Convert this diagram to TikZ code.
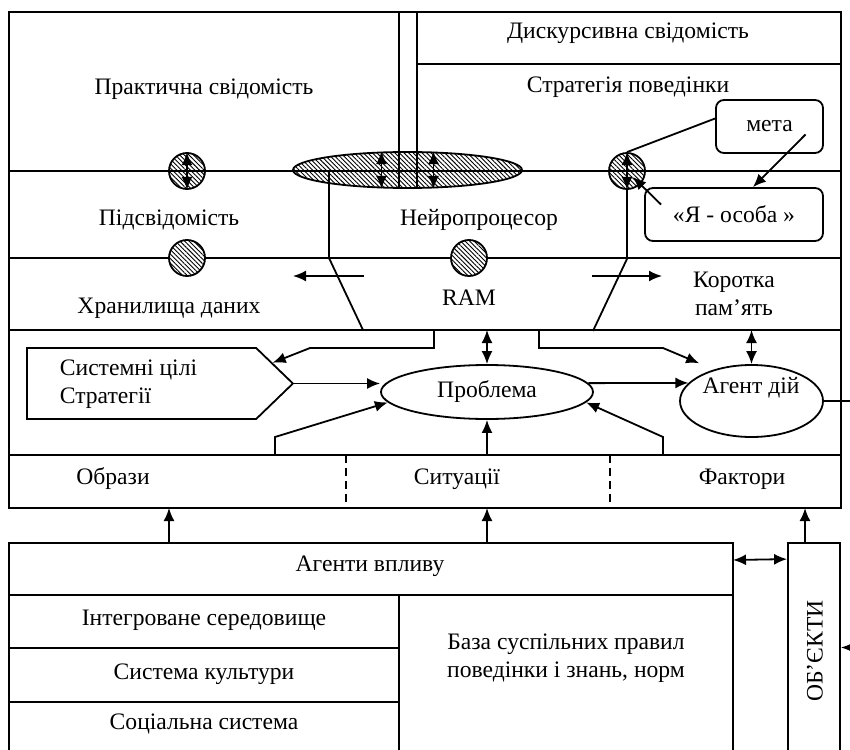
\documentclass[tikz,border=0pt]{standalone}
\usepackage{fontspec}
\setmainfont{Liberation Serif}
\usetikzlibrary{arrows.meta,shapes.geometric,shapes.symbols,patterns.meta}

\begin{document}
\begin{tikzpicture}[
  x=0.5pt, y=-0.5pt, line width=0.9pt,
  >={Latex[length=6.5pt,width=5.5pt]},
  every node/.style={font=\fontsize{11.8}{14}\selectfont, inner sep=0pt},
  hatch/.style={fill=white,
    postaction={pattern={Lines[angle=-45, distance=1.6pt, line width=0.45pt]}}},
  circ/.style={circle, draw, hatch, minimum size=18pt},
  ell/.style={ellipse, draw, fill=white},
  rbox/.style={draw, rounded corners=4pt, minimum height=26.5pt},
  layer dash/.style={dash pattern=on 4pt off 2.5pt}
]
  \useasboundingbox (0,0) rectangle (850,749);

  % upper block: layers
  \draw (9,12) rectangle (841,508);
  \draw (417,64) -- (841,64);
  \draw (9,258) -- (841,258) (9,330) -- (841,330) (9,455) -- (841,455);
  \draw[layer dash] (346,455) -- (346,508) (610,455) -- (610,508);

  % lower block
  \draw (9,752) |- (733,543) -- (733,752);
  \draw (9,595) -- (733,595) (399,595) -- (399,752);
  \draw (9,648) -- (399,648) (9,702) -- (399,702);
  \node[draw, minimum width=26pt, minimum height=104.5pt] (box-obj) at (814,647.5) {};

  % hatched links between layers
  \node[circ] (circ-pid) at (187,258) {};
  \node[circ] (circ-ram) at (469,258) {};
  \node[ell, hatch, minimum width=114.5pt, minimum height=18pt] (ell-neuro) at (407.5,170) {};
  \node[circ] (circ-prakt) at (187,171) {};
  \node[circ] (circ-ya) at (627,171) {};

  \draw (9,171) -- (841,171);
  \draw (399,12) -- (399,188) (417,12) -- (417,188);

  % texts
  \node (txt-prakt) at (204,89) {Практична свідомість};
  \node (txt-disk) at (628,33) {Дискурсивна свідомість};
  \node (txt-strat) at (628,87) {Стратегія поведінки};
  \node (txt-pid) at (169,220) {Підсвідомість};
  \node (txt-neuro) at (479,220) {Нейропроцесор};
  \node (txt-store) at (169,308) {Хранилища даних};
  \node (txt-ram) at (469,298) {RAM};
  \node[align=center] (txt-short) at (734,294) {Коротка\\пам’ять};
  \node (txt-obr) at (113,479) {Образи};
  \node (txt-sit) at (457,479) {Ситуації};
  \node (txt-fact) at (742,479) {Фактори};
  \node (txt-agents) at (370,566) {Агенти впливу};
  \node (txt-integr) at (204,620) {Інтегроване середовище};
  \node (txt-cult) at (204,674) {Система культури};
  \node (txt-soc) at (204,724) {Соціальна система};
  \node[align=center] (txt-base) at (566,658) {База суспільних правил\\поведінки і знань, норм};
  \node[rotate=90] (txt-obj) at (815,651) {ОБ’ЄКТИ};

  \node[rbox, minimum width=53.5pt] (box-meta) at (769.5,126.5) {мета};
  \node[rbox, minimum width=89pt] (box-ya) at (734,214.5) {«Я - особа »};

  \node[draw, signal, signal to=east, signal pointer angle=88, anchor=west,
    minimum width=133pt, minimum height=35.5pt] (sig-goals) at (26,383.5) {};
  \node[anchor=west, align=left] (txt-goals) at (59,384) {Системні цілі\\Стратегії};
  \node[ell, minimum width=106pt, minimum height=27pt] (ell-problem) at (487,392) {Проблема};
  \node[ell, minimum width=71.5pt, minimum height=36pt] (ell-agent) at (751.5,401) {};
  \node (txt-agent) at (751,388) {Агент дій};

  % arrows between layers
  \foreach \n in {prakt,ya}
    \draw[<->] (circ-\n.north) -- (circ-\n.south);
  \foreach \dx in {-13pt,13pt}
    \draw[<->] ([xshift=\dx]ell-neuro.north) -- ([xshift=\dx]ell-neuro.south);

  \draw (circ-ya.north) -- ([yshift=4pt]box-meta.west);
  \draw[->] ([shift={(18pt,-4pt)}]box-meta.center) -- ([xshift=9.5pt]box-ya.north);
  \draw[->] ([shift={(-36.5pt,5pt)}]box-ya.center) -- ([shift={(3pt,-3pt)}]circ-ya.center);
  \draw (circ-ya.south) -- ++(0,69) -- ++(-34,72);
  \draw ([xshift=-39.25pt]ell-neuro.center) -- ++(0,88) -- ++(34,72);

  \coordinate (store-l) at (364,276);
  \coordinate (store-r) at (592,276);
  \draw[->] (store-l) -- ++(-71,0);
  \draw[->] (store-r) -- ++(70,0);

  % problem solving layer
  \coordinate (tap-l) at (434,330);
  \coordinate (tap-r) at (539,330);
  \coordinate (head-m) at (487,330);
  \coordinate (head-r) at (751.5,330);
  \coordinate (foot-l) at (275,455);
  \coordinate (foot-m) at (487,455);
  \coordinate (foot-r) at (663,455);

  \draw[->] (sig-goals.east) -- (sig-goals.east -| ell-problem.west);
  \draw[->] (foot-l) -- ++(0,-18) -- (ell-problem.186);
  \draw[->] (foot-m) -- (ell-problem.south);
  \draw[->] (foot-r) -- ++(0,-18) -- (ell-problem.-6);
  \draw[->] (ell-problem.5) -- (ell-agent.164);
  \draw[<->] (head-m) -- (ell-problem.north);
  \draw[<->] (head-r) -- (ell-agent.north);
  \draw[->] (tap-l) -- ++(0,18) -- ++(-124,0) -- (sig-goals.9);
  \draw[->, shorten >=8pt] (tap-r) -- ++(0,18) -- ++(124,0) -- (ell-agent.140);

  % environment
  \foreach \x [count=\i] in {169,487,805} {
    \coordinate (up-\i) at (\x,543);
    \draw[->] (up-\i) -- ++(0,-35);
  }
  \coordinate (agents-e) at (733,560);
  \draw[<->] (agents-e) -- ([yshift=-8.5pt]box-obj.north west);
  \draw[->] (ell-agent.east) -- ++(30,0) |- (box-obj.east);
\end{tikzpicture}
\end{document}
